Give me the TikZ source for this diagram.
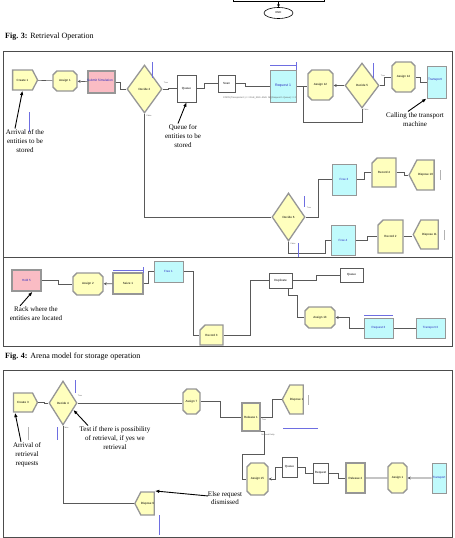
\documentclass[tikz,border=0pt]{standalone}
\usepackage{fontspec}
\setmainfont{Liberation Serif}
\setsansfont{Liberation Sans}
\usetikzlibrary{shapes.geometric, shapes.symbols, shapes.misc, arrows.meta, calc}

\definecolor{modyellow}{RGB}{255,255,190}
\definecolor{modcyan}{RGB}{192,250,252}
\definecolor{modpink}{RGB}{250,188,196}
\definecolor{modedge}{RGB}{150,150,150}
\definecolor{animblue}{RGB}{110,110,225}
\definecolor{txtblue}{RGB}{40,40,190}

\begin{document}
\begin{tikzpicture}[
    x=1pt, y=-1pt,
    sz/.style 2 args={minimum width=#1pt, minimum height=#2pt},
    mod/.style={draw=modedge, line width=1.3pt, inner sep=0pt, align=center, font=\sffamily\fontsize{3}{3.4}\selectfont},
    createmod/.style={mod, fill=modyellow, signal, signal to=east, signal pointer angle=125},
    disposemod/.style={mod, fill=modyellow, signal, signal to=west, signal pointer angle=125},
    assignmod/.style={mod, fill=modyellow, chamfered rectangle, chamfered rectangle xsep=2.5pt, chamfered rectangle ysep=2.5pt},
    recordmod/.style={mod, fill=modyellow, chamfered rectangle, chamfered rectangle corners=north west, chamfered rectangle xsep=4pt, chamfered rectangle ysep=4pt},
    decidemod/.style={mod, fill=modyellow, diamond},
    procmod/.style={mod, rectangle, fill=modyellow},
    cyanmod/.style={mod, rectangle, fill=modcyan, line width=1pt, text=txtblue},
    logicbox/.style={draw=gray!70!black, line width=0.5pt, fill=white, inner sep=0pt, align=center, font=\sffamily\fontsize{3}{3.4}\selectfont},
    modtext/.style={inner sep=0pt, text=txtblue, font=\sffamily\fontsize{3.2}{3.6}\selectfont},
    conn/.style={draw=gray!70!black, line width=0.6pt},
    connarrow/.style={conn, -{Stealth[length=3pt, width=3pt]}},
    note/.style={inner sep=0pt, align=center, text=black, font=\fontsize{7}{8.8}\selectfont},
    notearrow/.style={-{Latex[length=4.5pt, width=3.5pt]}, line width=0.9pt},
    anim/.style={draw=animblue, line width=0.6pt},
    tinylbl/.style={inner sep=0pt, text=gray!70!black, font=\sffamily\fontsize{2}{2.4}\selectfont},
    frame/.style={draw=gray!60!black, line width=0.9pt}
]
\useasboundingbox (0,0) rectangle (455,538);

% 1. End of the previous figure
\node[draw, sz={91}{10}, line width=0.7pt] (prevbox) at (278.5,-4) {};
\node[draw, ellipse, sz={29}{11}, line width=0.6pt, inner sep=0pt, font=\sffamily\fontsize{2.8}{3}\selectfont] (endnode) at (278.5,13) {END};
\draw[-{Stealth[length=3pt, width=3pt]}, line width=0.6pt] (prevbox) -- (endnode);

% 2. Captions and frames
\node[anchor=west, inner sep=0pt, font=\fontsize{8}{9}\selectfont] (cap3) at (5,37) {\textbf{Fig. 3:} Retrieval Operation};
\node[anchor=west, inner sep=0pt, font=\fontsize{8}{9}\selectfont] (cap4) at (5,357) {\textbf{Fig. 4:} Arena model for storage operation};
\draw[frame] (3,51) rectangle (452,257);
\draw[frame] (3,257) rectangle (452,346);
\draw[frame] (3,370) rectangle (452,537);

% 3. Storage: upper row
\node[createmod, sz={25}{20}] (create1) at (22.5,80) {Create 1};
\node[assignmod, sz={24}{20}] (assign1) at (65,81) {Assign 1};
\node[procmod, fill=modpink, sz={27}{22}] (submit) at (101.5,82) {};
\node[modtext] (submittxt) at (100,80) {Submit Simulation};
\node[decidemod, sz={35}{48}] (decide2) at (144.5,89) {Decide 2};
\node[logicbox, sz={19}{27}] (queue1) at (186.5,88.5) {Queue};
\node[logicbox, sz={17}{17}] (scan1) at (226.5,83.5) {Scan};
\node[cyanmod, sz={26}{32}, font=\sffamily\fontsize{3.5}{4}\selectfont] (request1) at (283,86) {Request 1};
\node[assignmod, sz={25}{30}] (assign12) at (320.5,85) {Assign 12};
\node[decidemod, sz={34}{45}] (decide5) at (362,85.5) {Decide 5};
\node[assignmod, sz={23}{30}] (assign14) at (403.5,77) {Assign 14};
\node[cyanmod, sz={19}{32}] (transport1) at (436.5,82) {};
\node[modtext, anchor=west] (transporttxt) at (428,80) {Transport};
\node[tinylbl, anchor=west, font=\sffamily\fontsize{2.3}{2.6}\selectfont] (scancond) at (223,98) {STATE(Transporter 1) == IDLE\_RES .AND. NQ(Request 1.Queue) == 0};

% 4. Storage: lower branch
\node[decidemod, sz={33}{48}] (decide6) at (288.5,217) {Decide 6};
\node[cyanmod, sz={24}{31}] (free3) at (344,179.5) {Free 3};
\node[recordmod, sz={24}{29}] (record4) at (384,172.5) {Record 4};
\node[disposemod, sz={25}{30}] (dispose10) at (425.5,175) {Dispose 10};
\node[cyanmod, sz={24}{30}] (free4) at (343,240) {Free 4};
\node[recordmod, sz={25}{33}] (record2) at (390.5,236.5) {Record 2};
\node[disposemod, sz={25}{29}] (dispose11) at (429.5,234.5) {Dispose 11};

% 5. Rack frame
\node[procmod, fill=modpink, sz={29}{21}, text=txtblue] (hold5) at (26.5,280.5) {Hold 5};
\node[assignmod, sz={30}{22}] (assign2) at (88,284) {Assign 2};
\node[procmod, sz={30}{21}] (seize1) at (128,283.5) {Seize 1};
\node[cyanmod, sz={29}{21}] (free1) at (168.5,271.5) {Free 1};
\node[recordmod, sz={23}{20}] (record3) at (211.5,335) {Record 3};
\node[logicbox, sz={23}{15}] (duplicate1) at (280.5,280.5) {Duplicate};
\node[logicbox, sz={23}{14}] (queue2) at (351.5,275) {Queue};
\node[assignmod, sz={30}{21}] (assign13) at (320,317.5) {Assign 13};
\node[cyanmod, sz={29}{20}] (request3) at (378.5,328) {Request 3};
\node[cyanmod, sz={29}{20}] (transport3) at (430.5,328) {Transport 3};

% 6. Retrieval frame
\node[createmod, sz={24}{19}] (create3) at (23,402.5) {Create 3};
\node[decidemod, sz={28}{44}] (decide4) at (63,403) {Decide 4};
\node[assignmod, sz={17}{25}] (assign7) at (191.5,401.5) {Assign 7};
\node[procmod, sz={18}{28}] (release1) at (251,417) {Release 1};
\node[disposemod, sz={19}{29}] (dispose1) at (296.5,399.5) {Dispose 1};
\node[assignmod, sz={21}{32}] (assign15) at (257.5,479) {Assign 15};
\node[logicbox, sz={15}{20}] (queue3) at (289.5,467) {Queue};
\node[logicbox, sz={15}{20}] (request4) at (320.5,473) {Request};
\node[procmod, sz={19}{30}] (release2) at (355.5,478) {Release 2};
\node[assignmod, sz={19}{30}] (assign1b) at (397.5,478) {Assign 1};
\node[cyanmod, sz={14}{30}] (transport4) at (439,478) {Transport};
\node[disposemod, sz={19}{23}] (dispose9) at (147.5,503.5) {Dispose 9};

% 7. Connections
\draw[conn] (create1) -- (assign1);
\draw[connarrow] (submit) -- (assign1);
\draw[conn] (submit.east) -- ++(5,0) |- (decide2.west);
\draw[conn] (decide2.east) -- ++(6,0) |- (queue1.west);
\draw[conn] (queue1.east) -- ++(8,0) |- (scan1.west);
\draw[conn] (scan1.east) -- ++(10,0) |- (request1.west);
\draw[conn] (request1.east) -- (request1.east -| assign12.west);
\draw[connarrow] (decide5.west) -- (decide5.west -| assign12.east);
\draw[conn] (decide5.south) -- ++(0,14) -| ($(request1.east)!0.6!(request1.east -| assign12.west)$);
\draw[conn] (decide5.east) -- ++(5,0) |- (assign14.west);
\draw[conn] (assign14.east) -- ++(5,0) |- (transport1.west);
\draw[conn] (decide2.south) |- (decide6.west);
\draw[conn] (decide6.east) -- ++(13,0) |- (free3.west);
\draw[conn] (free3.east) -- ++(8,0) |- (record4.west);
\draw[conn] (record4.east) -- ++(8,0) |- (dispose10.west);
\draw[conn] (decide6.south) -- ++(0,12) -- ++(37,0) |- (free4.west);
\draw[conn] (free4.east) -- ++(12,0) |- (record2.west);
\draw[conn] (record2.east) -- (record2.east -| dispose11.west);

\draw[conn] (hold5.east) -- ++(17,0) |- (assign2.west);
\draw[connarrow] (seize1) -- (assign2);
\draw[conn] (seize1.east) -- ++(5,0) |- (free1.west);
\draw[conn] (free1.east) -- ++(10,0) |- (record3.west);
\draw[conn] (record3.east) -- ++(27,0) |- (duplicate1.west);
\draw[conn] (duplicate1.east) -- ++(24,0) |- (queue2.west);
\draw[conn] ([xshift=8pt]duplicate1.south) -- ++(0,7) -- ++(9,0) |- (assign13.west);
\draw[connarrow] (request3.west) -- ++(-14,0) |- (assign13.east);
\draw[conn] (request3) -- (transport3);

\draw[conn] (create3.east) -- ++(6,0) |- (decide4.west);
\draw[conn] (decide4.east) -- (decide4.east -| assign7.west);
\draw[conn] (assign7.east) -- ++(20,0) |- (release1.west);
\draw[conn] (release1.east) -- ++(12,0) |- (dispose1.west);
\draw[conn] (release1.south east) -- ++(4,0) -- ++(0,23) -- ++(-22,0) |- (assign15.west);
\draw[connarrow] (queue3.west) -- ++(-6,0) |- (assign15.east);
\draw[conn] (queue3.east) -- ++(8,0) |- (request4.west);
\draw[conn] (request4.east) -- ++(10,0) |- (release2.west);
\draw[conn] (release2) -- (assign1b);
\draw[connarrow] (transport4) -- (assign1b);
\draw[conn] (decide4.south) |- (dispose9.west);

% 8. Animation marks and branch labels
\draw[anim] (152,62) -- (152,78);
\draw[anim] (270,65) -- (296,65) (296,62) -- (296,70);
\draw[anim] (373,63) -- (373,78);
\draw[anim] (29,112) -- (29,132);
\draw[anim] (304,196) -- (304,207);
\draw[anim] (298,243) -- (298,257);
\draw[anim] (113,270) -- (143,270) (143,267) -- (143,273);
\draw[anim] (364,315) -- (393,315);
\draw[anim] (75,380) -- (75,393);
\draw[anim] (57,427) -- (57,440);
\draw[anim] (283,428) -- (318,428);
\draw[anim] (159,515) -- (159,535);
\draw[gray!60, line width=0.4pt] (28,427) -- (28,440);
\draw[gray!60, line width=0.5pt] (440,170) -- (440,180) (444,230) -- (444,240) (308,395) -- (308,405);
\node[tinylbl] (t2) at (166,83) {True};
\node[tinylbl] (f2) at (149,116) {False};
\node[tinylbl] (t5) at (383,76) {True};
\node[tinylbl] (f5) at (366,110) {False};
\node[tinylbl] (t6) at (309,208) {True};
\node[tinylbl] (f6) at (293,244) {False};
\node[tinylbl] (t4) at (80,396) {True};
\node[tinylbl] (f4) at (66,428) {False};
\node[tinylbl] (tr1) at (264,420) {True};
\node[tinylbl] (rr1) at (268,435) {Retrieval Entity};

% 9. Notes
\node[note] (arrival1) at (25,141) {Arrival of the\\entities to be\\stored};
\draw[notearrow] ([xshift=-10pt, yshift=1pt]arrival1.north) -- (create1.south);
\node[note] (queuenote) at (183,136) {Queue for\\entities to be\\stored};
\draw[notearrow] ([xshift=-5pt, yshift=1pt]queuenote.north) -- (queue1.south);
\node[note] (callnote) at (415,119.5) {Calling the transport\\machine};
\draw[notearrow] ([xshift=-7pt, yshift=1pt]callnote.north) -- (transport1.south west);
\node[note] (racknote) at (36,314) {Rack where the\\entities are located};
\draw[notearrow] ([xshift=-16pt, yshift=1pt]racknote.north) -- ([xshift=6pt]hold5.south);
\node[note] (testnote) at (115,438) {Test if there is possibility\\of retrieval, if yes we\\retrieval};
\draw[notearrow] ([xshift=-27pt, yshift=1pt]testnote.north) -- ($(decide4.east)!0.3!(decide4.south)$);
\node[note] (arrival2) at (27,455) {Arrival of\\retrieval\\requests};
\draw[notearrow] ([xshift=-6pt, yshift=1pt]arrival2.north) -- ([xshift=-8pt]create3.south);
\node[note] (elsenote) at (225,498) {Else request\\dismissed};
\draw[notearrow] ([yshift=-5pt]elsenote.north west) -- (elsenote.north west -| dispose9.east);

\end{tikzpicture}
\end{document}
